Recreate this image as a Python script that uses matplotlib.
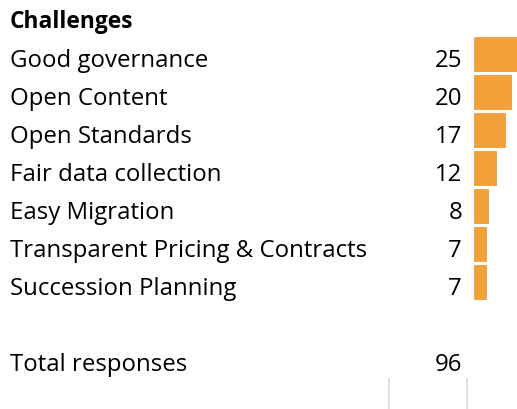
import matplotlib
matplotlib.use("Agg")
import matplotlib.pyplot as plt

header = "Challenges"
categories = ["Good governance", "Open Content", "Open Standards", "Fair data collection",
              "Easy Migration", "Transparent Pricing & Contracts", "Succession Planning"]
values = [25, 20, 17, 12, 8, 7, 7]
total_label = "Total responses"
total_value = 96

W, H = 517, 410
fig = plt.figure(figsize=(W / 100, H / 100), dpi=100)
font = ["Open Sans", "DejaVu Sans"]
color = "#F1A03A"

# fit font size so the longest label spans ~357 px as in the reference
renderer = fig.canvas.get_renderer()
probe = fig.text(0, 0, categories[5], fontsize=10, family=font)
w10 = probe.get_window_extent(renderer).width
probe.remove()
fs = 10 * 357 / w10

ax = fig.add_axes([0, 0, 1, 1])
ax.set_xlim(0, W)
ax.set_ylim(H, 0)
ax.axis("off")

row_top = 36
row_h = 38
ax.text(10, 28, header, fontsize=fs * 0.95, fontweight="bold", family=font, va="baseline", ha="left")
for i, (c, v) in enumerate(zip(categories, values)):
    y = 67 + row_h * i
    ax.text(10, y, c, fontsize=fs, family=font, va="baseline", ha="left")
    ax.text(462, y, str(v), fontsize=fs, family=font, va="baseline", ha="right")
ax.text(10, 371.5, total_label, fontsize=fs, family=font, va="baseline", ha="left")
ax.text(462, 371.5, str(total_value), fontsize=fs, family=font, va="baseline", ha="right")
for x in (389, 467):
    ax.plot([x, x], [380, H], color="#d9d9d9", lw=1.2)

x0 = 473
px_per_unit = 1.96
bax = fig.add_axes([x0 / W, (H - (row_top + row_h * len(values))) / H,
                    (W - x0) / W, row_h * len(values) / H])
bax.barh(range(len(values)), values, height=0.95, color=color, edgecolor="white", linewidth=0.8)
bax.set_xlim(0, (W - x0) / px_per_unit)
bax.set_ylim(len(values) - 0.5, -0.5)
bax.axis("off")

fig.savefig("out.png", dpi=100)
